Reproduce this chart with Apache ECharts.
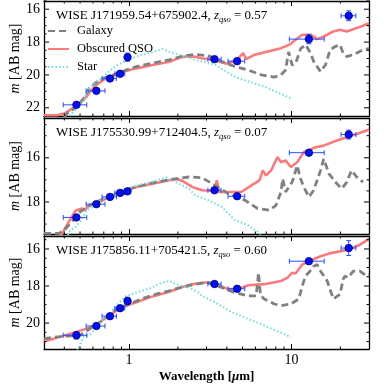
<!DOCTYPE html>
<html><head><meta charset="utf-8">
<script src="https://cdn.jsdelivr.net/npm/echarts@6/dist/echarts.min.js"></script>
<style>html,body{margin:0;padding:0;background:#fff}#c{width:389px;height:389px}</style>
</head><body><div id="c"></div>
<script>
// ---------------- DATA ----------------
const bandLam   = [0.475, 0.63, 0.764, 0.882, 0.98, 3.36, 4.63, 12.8, 22.5];
const bandLamLo = [0.394, 0.545, 0.683, 0.819, 0.95, 3.06, 4.07, 9.7, 20.2];
const bandLamHi = [0.55, 0.712, 0.837, 0.942, 1.01, 3.69, 5.16, 15.9, 24.9];

const p1Name = 'WISE J171959.54+675902.4';
const p1Z = '0.57';
const p1Mag    = [21.82, 20.97, 20.22, 19.93, 18.92, 19.04, 19.16, 17.82, 16.40];
const p1MagErr = [0.08, 0.06, 0.05, 0.05, 0.25, 0.04, 0.05, 0.28, 0.3];
const p1Galaxy = [[0.40,22.6],[0.416,22.33],[0.48,21.93],[0.54,21.3],[0.57,20.8],[0.62,20.5],[0.695,20.2],[0.80,20.0],[0.96,19.7],[1.11,19.49],[1.4,19.28],[1.77,19.08],[2.13,18.85],[2.56,18.75],[3.09,18.84],[3.72,19.18],[4.48,19.49],[5.4,19.7],[6.52,20.0],[7.85,20.13],[8.62,20.0],[9.2,19.7],[9.6,18.6],[10.1,19.4],[10.6,19.3],[11.4,18.4],[12.2,18.16],[13.1,18.67],[13.7,19.18],[15.1,19.8],[16.2,19.38],[17.3,18.47],[18.6,18.27],[19.9,18.16],[20.8,18.67],[21.9,18.88],[24,18.77],[27.6,18.47],[30,18.4]];
const p1Qso = [[0.30,22.45],[0.36,22.45],[0.40,22.35],[0.435,22.13],[0.50,21.72],[0.55,21.3],[0.59,20.9],[0.633,20.6],[0.695,20.3],[0.80,20.05],[0.92,19.8],[1.11,19.6],[1.4,19.4],[1.77,19.2],[2.13,18.9],[2.5,18.88],[2.81,18.98],[3.39,19.12],[3.99,19.32],[4.59,19.12],[5.04,18.67],[5.27,19.04],[5.94,18.77],[7.15,18.57],[8.62,18.37],[9.7,18.16],[10.6,17.86],[11.65,17.55],[13.1,17.55],[14.4,17.82],[15.8,17.66],[18.1,17.35],[19.9,17.25],[21.9,17.35],[25.2,17.15],[29.6,16.88],[30,16.86]];
const p1Star = [[0.42,22.7],[0.435,22.43],[0.47,22.13],[0.53,21.5],[0.56,20.9],[0.60,20.6],[0.66,20.3],[0.73,19.9],[0.82,19.49],[0.94,19.18],[1.11,18.88],[1.34,18.67],[1.61,18.43],[1.85,18.67],[2.23,18.88],[2.56,19.08],[3.39,19.38],[4.28,20.0],[4.7,20.2],[6.8,20.7],[9.9,21.42]];

const p2Name = 'WISE J175530.99+712404.5';
const p2Z = '0.07';
const p2Mag    = [18.70, 18.10, 17.77, 17.59, 17.52, 17.47, 17.74, 15.77, 14.95];
const p2MagErr = [0.05, 0.03, 0.03, 0.03, 0.03, 0.03, 0.04, 0.05, 0.2];
const p2Galaxy = [[0.30,19.42],[0.37,19.42],[0.40,19.27],[0.45,18.85],[0.5,18.45],[0.577,18.15],[0.664,17.92],[0.764,17.74],[0.92,17.5],[1.11,17.32],[1.4,17.14],[1.77,16.99],[2.34,16.87],[2.81,16.9],[3.39,17.25],[4.08,17.62],[5.16,17.92],[6.2,18.3],[7.33,18.37],[8.03,18.15],[8.62,17.55],[8.83,16.95],[9.2,17.55],[10.1,17.1],[10.85,16.35],[11.3,16.9],[11.9,17.32],[12.8,17.77],[13.7,17.47],[15.1,16.57],[15.8,16.05],[17.0,16.72],[19.0,17.17],[20.4,17.4],[21.9,17.1],[23.4,16.57],[25.2,16.87],[27.6,17.1]];
const p2Qso = [[0.37,19.6],[0.388,19.42],[0.426,18.9],[0.468,18.4],[0.51,18.3],[0.54,18.35],[0.563,18.15],[0.664,18.0],[0.764,17.74],[0.92,17.47],[1.11,17.32],[1.4,17.17],[1.77,17.02],[2.0,16.97],[2.13,17.05],[2.45,17.32],[2.81,17.47],[3.39,17.5],[3.47,17.02],[3.58,17.55],[4.28,17.55],[4.92,17.55],[5.66,17.25],[6.36,17.02],[6.66,16.57],[6.98,16.8],[7.5,16.57],[8.2,15.97],[8.62,16.2],[9.2,16.12],[9.9,16.42],[10.85,16.2],[11.9,15.75],[12.8,15.67],[13.7,15.55],[15.8,15.45],[19.0,15.22],[21.9,15.07],[25.2,14.92],[29.6,14.74],[30,14.72]];
const p2Star = [[0.42,19.5],[0.436,19.27],[0.47,19.13],[0.51,18.82],[0.55,18.37],[0.6,18.22],[0.664,17.92],[0.764,17.7],[0.92,17.47],[1.11,17.25],[1.4,17.07],[1.7,16.9],[1.94,17.1],[2.34,17.4],[2.56,17.7],[3.09,17.92],[3.72,18.22],[4.48,18.82],[5.4,19.05],[6.2,19.35],[6.6,19.5]];

const p3Name = 'WISE J175856.11+705421.5';
const p3Z = '0.60';
const p3Mag    = [20.66, 20.16, 19.63, 19.20, 18.81, 17.89, 18.15, 16.66, 15.95];
const p3MagErr = [0.2, 0.06, 0.05, 0.06, 0.2, 0.04, 0.05, 0.07, 0.4];
const p3Galaxy = [[0.30,20.84],[0.362,20.75],[0.436,20.69],[0.5,20.66],[0.577,20.3],[0.664,19.95],[0.764,19.5],[0.878,19.15],[1.01,18.97],[1.22,18.67],[1.47,18.44],[1.77,18.26],[2.13,18.05],[2.56,17.9],[3.09,17.81],[3.72,18.08],[4.48,18.35],[5.4,18.53],[6.07,18.53],[6.27,17.28],[6.45,18.5],[6.8,18.7],[7.85,18.97],[8.62,19.06],[9.9,18.97],[11.1,18.7],[11.65,17.99],[12.2,17.46],[13.0,17.2],[13.7,16.93],[14.4,16.84],[15.1,17.2],[16.6,17.73],[18.1,18.7],[19.9,18.44],[20.8,17.64],[21.3,17.46],[22.3,17.55],[24,17.2],[26.4,17.2],[28.9,17.46],[30,17.4]];
const p3Qso = [[0.30,20.98],[0.345,20.84],[0.436,20.57],[0.55,20.3],[0.63,20.09],[0.73,19.68],[0.837,19.33],[0.96,19.06],[1.11,18.88],[1.4,18.56],[1.77,18.31],[2.13,18.05],[2.45,17.9],[2.81,17.82],[3.09,17.81],[3.55,17.96],[4.08,18.17],[4.7,18.17],[5.4,17.96],[6.8,17.9],[8.62,17.73],[9.45,17.55],[10.1,17.28],[10.6,17.33],[11.65,16.84],[12.8,16.66],[15.1,16.39],[17.7,16.21],[19.9,16.13],[22.9,16.0],[26.4,15.77],[29.6,15.5],[30,15.48]];
const p3Star = [[0.48,21.5],[0.5,21.2],[0.525,20.75],[0.58,20.6],[0.633,20.2],[0.695,19.77],[0.764,19.5],[0.837,19.06],[0.96,18.53],[1.11,18.35],[1.34,18.13],[1.61,17.81],[1.77,17.73],[1.94,17.9],[2.13,17.99],[2.34,18.08],[2.68,18.35],[2.81,18.53],[3.39,18.88],[4.28,19.41],[5.4,19.77],[7.15,20.21],[9.9,20.75]];

const xMinorTicks = [0.4,0.5,0.6,0.7,0.8,0.9,2,3,4,5,6,7,8,9,20];
const xMajorLabels = [1, 10];
const yMajorStep = 2;
const yMinorStep = 0.5;
// --------------------------------------

const FONT = '"Liberation Serif","DejaVu Serif",serif';
const panels = [
  {name:p1Name, z:p1Z, mag:p1Mag, err:p1MagErr, gal:p1Galaxy, qso:p1Qso, star:p1Star, yMin:15.5, yMax:22.5},
  {name:p2Name, z:p2Z, mag:p2Mag, err:p2MagErr, gal:p2Galaxy, qso:p2Qso, star:p2Star, yMin:14.2, yMax:19.45},
  {name:p3Name, z:p3Z, mag:p3Mag, err:p3MagErr, gal:p3Galaxy, qso:p3Qso, star:p3Star, yMin:15.3, yMax:21.4}
];
const grids = [
  {left:39, top:1, width:330, height:115},
  {left:39, top:118, width:330, height:116},
  {left:39, top:236, width:330, height:113}
];

const chart = echarts.init(document.getElementById('c'), null, {renderer:'canvas'});
const xAxes = [], yAxes = [], series = [], titles = [];
const axisLine = {show:true, onZero:false, lineStyle:{color:'#000', width:1.3}};
const tickStyle = {show:true, inside:true, length:5, lineStyle:{color:'#000', width:1}};
const TK = {stroke:'#000', lineWidth:1};

panels.forEach((p, i) => {
  const last = i === panels.length - 1;
  xAxes.push({
    type:'log', logBase:10, min:0.3, max:30, gridIndex:i, position:'bottom',
    axisLine, axisTick:tickStyle, splitLine:{show:false},
    axisLabel:{show:last, margin:4, color:'#000', fontFamily:FONT, fontSize:14,
      formatter: v => { for (const t of xMajorLabels) if (Math.abs(v - t) < 1e-6) return String(t); return ''; }},
    name: last ? 'Wavelength [{i|μ}m]' : '', nameLocation:'middle', nameGap:21,
    nameTextStyle:{color:'#000', fontFamily:FONT, fontSize:13, fontWeight:'bold',
      rich:{i:{fontFamily:FONT, fontSize:13, fontStyle:'italic', fontWeight:'bold', color:'#000'}}}
  });
  xAxes.push({
    type:'log', logBase:10, min:0.3, max:30, gridIndex:i, position:'top',
    axisLine, axisTick:tickStyle, splitLine:{show:false}, axisLabel:{show:false}
  });
  yAxes.push({
    type:'value', inverse:true, min:p.yMin, max:p.yMax, gridIndex:i, position:'left',
    axisLine, axisTick:{show:false}, splitLine:{show:false}, axisLabel:{show:false},
    name:'{i|m} [AB mag]', nameLocation:'middle', nameGap:22, nameRotate:90,
    nameTextStyle:{color:'#000', fontFamily:FONT, fontSize:14,
      rich:{i:{fontFamily:FONT, fontSize:14, fontStyle:'italic', color:'#000'}}}
  });
  yAxes.push({
    type:'value', inverse:true, min:p.yMin, max:p.yMax, gridIndex:i, position:'right',
    axisLine, axisTick:{show:false}, splitLine:{show:false}, axisLabel:{show:false}
  });
  const xi = 2*i, yi = 2*i;
  series.push({name:'Obscured QSO', type:'line', xAxisIndex:xi, yAxisIndex:yi, data:p.qso, symbol:'none', showSymbol:false,
    lineStyle:{color:'#fa7b7b', width:2.6}, itemStyle:{color:'#fa7b7b'}, z:2, clip:true, animation:false});
  series.push({name:'Galaxy', type:'line', xAxisIndex:xi, yAxisIndex:yi, data:p.gal, symbol:'none', showSymbol:false,
    lineStyle:{color:'#808080', width:2.8, type:[7,4]}, itemStyle:{color:'#808080'}, z:3, clip:true, animation:false});
  series.push({name:'Star', type:'line', xAxisIndex:xi, yAxisIndex:yi, data:p.star, symbol:'none', showSymbol:false,
    lineStyle:{color:'#6fdcdc', width:2, type:[1.5,2.2]}, itemStyle:{color:'#6fdcdc'}, z:4, clip:true, animation:false});
  const phot = bandLam.map((l, k) => [l, p.mag[k], bandLamLo[k], bandLamHi[k], p.err[k]]);
  series.push({type:'custom', xAxisIndex:xi, yAxisIndex:yi, data:phot, z:5, silent:true, animation:false,
    renderItem:(params, api) => {
      const x = api.value(0), y = api.value(1), lo = api.value(2), hi = api.value(3), e = api.value(4);
      const pL = api.coord([lo, y]), pR = api.coord([hi, y]);
      const pT = api.coord([x, y - e]), pB = api.coord([x, y + e]);
      const st = {stroke:'#2a4dff', lineWidth:1};
      const c = 2.5;
      const L = (a,b,c2,d) => ({type:'line', shape:{x1:a,y1:b,x2:c2,y2:d}, style:st});
      return {type:'group', children:[
        L(pL[0],pL[1],pR[0],pR[1]),
        L(pL[0],pL[1]-c,pL[0],pL[1]+c),
        L(pR[0],pR[1]-c,pR[0],pR[1]+c),
        L(pT[0],pT[1],pB[0],pB[1]),
        L(pT[0]-c,pT[1],pT[0]+c,pT[1]),
        L(pB[0]-c,pB[1],pB[0]+c,pB[1])
      ]};
    }});
  series.push({type:'scatter', xAxisIndex:xi, yAxisIndex:yi, data:phot.map(d => [d[0], d[1]]), symbol:'circle', symbolSize:7.5,
    itemStyle:{color:'#0010f0', borderColor:'#000080', borderWidth:0.8, opacity:1}, z:6, silent:true, animation:false});
  // minor ticks (x)
  series.push({type:'custom', xAxisIndex:xi, yAxisIndex:yi, data:xMinorTicks.map(t => [t, p.yMin]), z:7, silent:true, animation:false,
    renderItem:(params, api) => {
      const cs = params.coordSys; const x = api.coord([api.value(0), api.value(1)])[0];
      return {type:'group', children:[
        {type:'line', shape:{x1:x, y1:cs.y+cs.height, x2:x, y2:cs.y+cs.height-2.5}, style:TK},
        {type:'line', shape:{x1:x, y1:cs.y, x2:x, y2:cs.y+2.5}, style:TK}
      ]};
    }});
  // y ticks: major (with labels) and minor
  const yTicks = [];
  for (let v = Math.ceil(p.yMin/yMinorStep)*yMinorStep; v < p.yMax; v += yMinorStep) {
    const vv = +v.toFixed(2);
    const major = Math.abs(vv/yMajorStep - Math.round(vv/yMajorStep)) < 1e-6 ? 1 : 0;
    yTicks.push([1, vv, major]);
  }
  series.push({type:'custom', xAxisIndex:xi, yAxisIndex:yi, data:yTicks, z:7, silent:true, animation:false,
    renderItem:(params, api) => {
      const cs = params.coordSys; const v = api.value(1); const y = api.coord([api.value(0), v])[1];
      const major = api.value(2) === 1; const len = major ? 5 : 2.5;
      const ch = [
        {type:'line', shape:{x1:cs.x, y1:y, x2:cs.x+len, y2:y}, style:TK},
        {type:'line', shape:{x1:cs.x+cs.width, y1:y, x2:cs.x+cs.width-len, y2:y}, style:TK}
      ];
      if (major) ch.push({type:'text', x:cs.x-4, y:y, style:{text:String(Math.round(v)), fill:'#000',
        font:'14px ' + FONT, textAlign:'right', textVerticalAlign:'middle'}});
      return {type:'group', children:ch};
    }});
  titles.push({
    text:'{a|' + p.name + ', }{i|z}{s|qso}{a| = ' + p.z + '}',
    left:51, top:grids[i].top + 2,
    textStyle:{fontWeight:'normal', rich:{
      a:{fontFamily:FONT, fontSize:13, fontWeight:'normal', color:'#000', lineHeight:16},
      i:{fontFamily:FONT, fontSize:13, fontWeight:'normal', fontStyle:'italic', color:'#000', lineHeight:16},
      s:{fontFamily:FONT, fontSize:8.5, fontWeight:'normal', fontStyle:'italic', color:'#000', lineHeight:16, padding:[7,0,0,0]}
    }}
  });
});

chart.setOption({
  animation:false,
  backgroundColor:'#fff',
  title:titles,
  grid:grids,
  xAxis:xAxes,
  yAxis:yAxes,
  legend:{data:['Galaxy','Obscured QSO','Star'], orient:'vertical', left:42, top:19, itemGap:4,
    itemWidth:21, itemHeight:10, selectedMode:false, itemStyle:{opacity:0, borderWidth:0},
    textStyle:{fontFamily:FONT, fontSize:12.5, color:'#000', lineHeight:14, padding:[0,0,0,3]}},
  series
});
</script></body></html>
